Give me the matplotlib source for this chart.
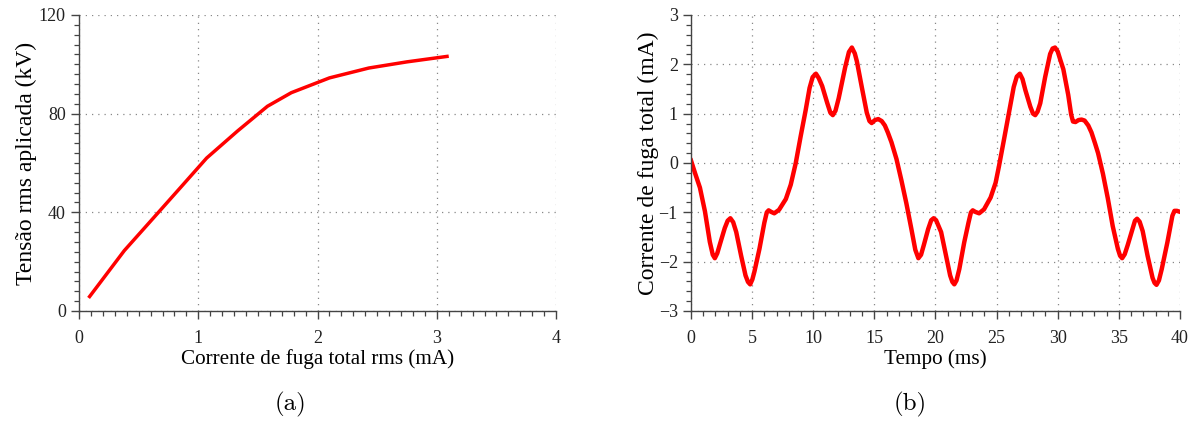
import numpy as np
import matplotlib.pyplot as plt
from matplotlib.ticker import MultipleLocator

# (a) tensão aplicada x corrente de fuga rms
corrente_rms = [0.08, 0.38, 0.62, 0.85, 1.07, 1.33, 1.58, 1.78, 2.10, 2.43, 2.75, 3.10]
tensao_rms = [5.3, 24.5, 37.5, 50.0, 62.0, 73.0, 83.0, 88.5, 94.5, 98.5, 101.0, 103.3]

# (b) forma de onda da corrente de fuga total
tempo_ms = [
    0.00, 0.35, 0.73, 1.14, 1.54, 1.78, 1.95, 2.15, 2.35, 2.76,
    3.00, 3.22, 3.45, 3.70, 4.10, 4.46, 4.66, 4.84, 5.02, 5.19,
    5.60, 6.00, 6.20, 6.35, 6.55, 6.81, 7.20, 7.76, 8.16, 8.57,
    8.97, 9.38, 9.70, 9.95, 10.22, 10.45, 10.73, 11.14, 11.40, 11.60,
    11.82, 12.08, 12.62, 12.92, 13.16, 13.40, 13.57, 13.97, 14.38, 14.60,
    14.78, 15.05, 15.32, 15.60, 15.86, 16.10, 16.40, 16.81, 17.22, 17.62,
    18.03, 18.35, 18.60, 18.82, 19.05, 19.40, 19.65, 19.85, 20.05, 20.46,
    20.86, 21.20, 21.38, 21.54, 21.72, 21.95, 22.35, 22.70, 22.90, 23.05,
    23.25, 23.57, 23.97, 24.51, 24.92, 25.19, 25.60, 26.00, 26.40, 26.65,
    26.90, 27.12, 27.35, 27.76, 27.98, 28.16, 28.35, 28.57, 28.97, 29.38,
    29.58, 29.78, 30.00, 30.20, 30.46, 30.86, 31.10, 31.25, 31.45, 31.70,
    31.95, 32.20, 32.50, 32.76, 33.05, 33.30, 33.70, 34.10, 34.50, 34.92,
    35.10, 35.27, 35.48, 35.73, 36.14, 36.32, 36.49, 36.70, 36.95, 37.35,
    37.76, 37.92, 38.08, 38.28, 38.51, 38.97, 39.38, 39.55, 39.75, 40.00,
]
corrente_ma = [
    0.05, -0.22, -0.50, -0.98, -1.60, -1.86, -1.93, -1.83, -1.66, -1.32,
    -1.17, -1.12, -1.20, -1.40, -1.88, -2.28, -2.41, -2.46, -2.36, -2.20,
    -1.74, -1.21, -1.00, -0.96, -0.99, -1.02, -0.95, -0.73, -0.44, 0.00,
    0.54, 1.07, 1.52, 1.74, 1.81, 1.72, 1.56, 1.22, 1.02, 0.97,
    1.06, 1.31, 1.95, 2.25, 2.34, 2.22, 2.06, 1.54, 1.02, 0.85,
    0.81, 0.87, 0.89, 0.85, 0.76, 0.62, 0.42, 0.08, -0.36, -0.82,
    -1.34, -1.76, -1.93, -1.86, -1.66, -1.34, -1.16, -1.12, -1.16, -1.40,
    -1.88, -2.28, -2.41, -2.46, -2.38, -2.15, -1.61, -1.21, -1.00, -0.96,
    -0.99, -1.02, -0.94, -0.70, -0.40, -0.07, 0.47, 1.01, 1.54, 1.75,
    1.81, 1.70, 1.48, 1.14, 1.00, 0.97, 1.04, 1.21, 1.74, 2.21,
    2.32, 2.34, 2.26, 2.10, 1.90, 1.38, 0.98, 0.84, 0.83, 0.87,
    0.88, 0.86, 0.76, 0.62, 0.40, 0.20, -0.22, -0.72, -1.28, -1.74,
    -1.88, -1.93, -1.85, -1.66, -1.32, -1.17, -1.13, -1.19, -1.38, -1.88,
    -2.33, -2.43, -2.47, -2.38, -2.15, -1.61, -1.07, -0.97, -0.97, -0.99,
]

plt.rcParams['font.family'] = ['Liberation Serif', 'DejaVu Serif']
plt.rcParams['axes.unicode_minus'] = True

fig = plt.figure(figsize=(11.92, 4.21), dpi=100)
ax_a = fig.add_axes([0.0663, 0.2613, 0.4002, 0.7031])
ax_b = fig.add_axes([0.5797, 0.2613, 0.4102, 0.7031])


def estilo(ax):
    for lado in ("top", "right"):
        ax.spines[lado].set_visible(False)
    for lado in ("left", "bottom"):
        ax.spines[lado].set_color("#444444")
        ax.spines[lado].set_linewidth(1.0)
    ax.tick_params(which="major", direction="out", length=6, width=1.0,
                   color="#444444", labelcolor="#222222", labelsize=13)
    ax.tick_params(axis="x", which="major", pad=7.5)
    ax.tick_params(axis="y", which="major", pad=3.5)
    ax.tick_params(which="minor", direction="out", length=3.5, width=0.9,
                   color="#444444")
    ax.grid(True, which="major", linestyle=(0, (1, 4)), color="#888888",
            linewidth=0.9)
    ax.set_axisbelow(True)


# (a)
ax_a.plot(corrente_rms, tensao_rms, color="#ff0000", linewidth=2.5,
          solid_capstyle="butt")
ax_a.set_xlim(0, 4)
ax_a.set_ylim(0, 120)
ax_a.xaxis.set_major_locator(MultipleLocator(1))
ax_a.xaxis.set_minor_locator(MultipleLocator(0.1))
ax_a.yaxis.set_major_locator(MultipleLocator(40))
ax_a.yaxis.set_minor_locator(MultipleLocator(4))
estilo(ax_a)
ax_a.set_xlabel("Corrente de fuga total rms (mA)", fontsize=15.2, labelpad=2)
ax_a.set_ylabel("Tensão rms aplicada (kV)", fontsize=17, labelpad=1)

# (b)
ax_b.plot(tempo_ms, corrente_ma, color="#ff0000", linewidth=3.2,
          solid_joinstyle="round")
ax_b.set_xlim(0, 40)
ax_b.set_ylim(-3, 3)
ax_b.xaxis.set_major_locator(MultipleLocator(5))
ax_b.xaxis.set_minor_locator(MultipleLocator(1))
ax_b.yaxis.set_major_locator(MultipleLocator(1))
ax_b.yaxis.set_minor_locator(MultipleLocator(0.2))
estilo(ax_b)
ax_b.set_xlabel("Tempo (ms)", fontsize=15.2, labelpad=2)
ax_b.set_ylabel("Corrente de fuga total (mA)", fontsize=17, labelpad=0)

fig.text(0.2437, 0.04, "(a)", ha="center", va="center", fontsize=18,
         family=["cmr10", "DejaVu Serif"])
fig.text(0.7634, 0.04, "(b)", ha="center", va="center", fontsize=18,
         family=["cmr10", "DejaVu Serif"])

fig.savefig("out.png", dpi=100)
